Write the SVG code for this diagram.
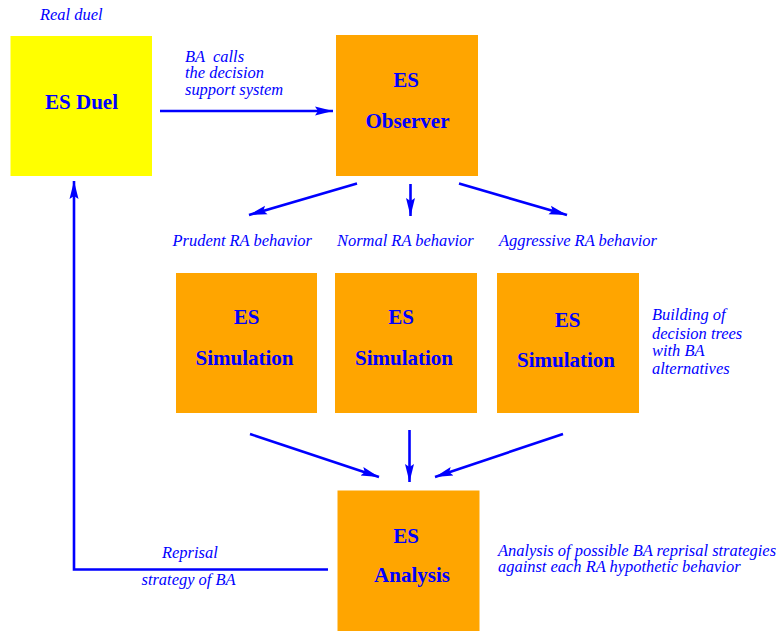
<svg xmlns="http://www.w3.org/2000/svg" width="776" height="631" viewBox="0 0 776 631">
<style>
.box{fill:#ffa500}
.duel{fill:#ffff00}
.bt{font-family:"Liberation Serif","Times New Roman",serif;font-weight:bold;font-size:21px;fill:#0000ff;text-anchor:middle}
.lb{font-family:"Liberation Serif","Times New Roman",serif;font-style:italic;font-size:16.45px;fill:#0000ff;white-space:pre}
.cn{stroke:#0000ff;stroke-width:2.6;fill:none}
</style>
<defs>
<marker id="ah" markerUnits="userSpaceOnUse" markerWidth="20" markerHeight="12" refX="18" refY="5" orient="auto" viewBox="0 0 20 10">
<path d="M0,0.5 L18,5 L0,9.5 L3,5 z" fill="#0000ff"/>
</marker>
</defs>
<rect width="776" height="631" fill="#ffffff"/>
<g id="labels">
<text class="lb" x="40" y="20">Real duel</text>
<text class="lb" x="185" y="62">BA  calls</text>
<text class="lb" x="185" y="78">the decision</text>
<text class="lb" x="185" y="95">support system</text>
<text class="lb" x="172.5" y="246">Prudent RA behavior</text>
<text class="lb" x="337" y="246">Normal RA behavior</text>
<text class="lb" x="499" y="246">Aggressive RA behavior</text>
<text class="lb" x="652" y="320">Building of</text>
<text class="lb" x="652" y="338.5">decision trees</text>
<text class="lb" x="652" y="356">with BA</text>
<text class="lb" x="652" y="374">alternatives</text>
<text class="lb" x="162" y="558">Reprisal</text>
<text class="lb" x="141.5" y="585">strategy of BA</text>
<text class="lb" x="498" y="556">Analysis of possible BA reprisal strategies</text>
<text class="lb" x="498" y="572">against each RA hypothetic behavior</text>
</g>
<g id="duel">
<rect class="duel" x="10.5" y="36" width="141.5" height="140"/>
<text class="bt" x="81.5" y="108.5">ES Duel</text>
</g>
<g id="observer">
<rect class="box" x="336" y="35" width="142" height="141"/>
<text class="bt" x="406" y="87">ES</text>
<text class="bt" x="407.5" y="128">Observer</text>
</g>
<g id="sim1">
<rect class="box" x="176" y="273" width="141" height="140"/>
<text class="bt" x="246.5" y="324">ES</text>
<text class="bt" x="244.5" y="365">Simulation</text>
</g>
<g id="sim2">
<rect class="box" x="335" y="273" width="142" height="140"/>
<text class="bt" x="401" y="324">ES</text>
<text class="bt" x="404" y="365">Simulation</text>
</g>
<g id="sim3">
<rect class="box" x="497" y="273" width="142" height="140"/>
<text class="bt" x="567.5" y="326.5">ES</text>
<text class="bt" x="566" y="367">Simulation</text>
</g>
<g id="analysis">
<rect class="box" x="337.5" y="490.5" width="142" height="141"/>
<text class="bt" x="406" y="542.5">ES</text>
<text class="bt" x="412" y="581.5">Analysis</text>
</g>
<g id="connectors">
<line class="cn" x1="160" y1="111" x2="333" y2="111" marker-end="url(#ah)"/>
<line class="cn" x1="357" y1="183.5" x2="249" y2="215" marker-end="url(#ah)"/>
<line class="cn" x1="410.5" y1="184" x2="410.5" y2="216" marker-end="url(#ah)"/>
<line class="cn" x1="459" y1="183.5" x2="567" y2="215" marker-end="url(#ah)"/>
<line class="cn" x1="250" y1="434" x2="379" y2="477" marker-end="url(#ah)"/>
<line class="cn" x1="409.5" y1="430" x2="409.5" y2="482" marker-end="url(#ah)"/>
<line class="cn" x1="563" y1="434" x2="435" y2="477" marker-end="url(#ah)"/>
<polyline class="cn" points="328,569.5 74,569.5 74,181" marker-end="url(#ah)"/>
</g>
</svg>
